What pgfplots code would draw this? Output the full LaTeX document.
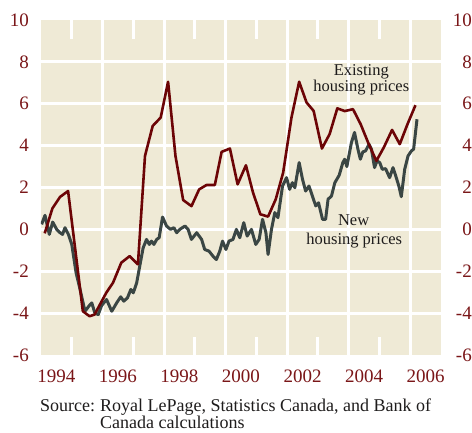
\documentclass[border=0pt]{standalone}
\usepackage{pgfplots}
\pgfplotsset{compat=1.18}
\usepackage{fontspec}
\setmainfont{Liberation Serif}
\definecolor{bgc}{RGB}{239,234,214}
\definecolor{redl}{RGB}{108,4,6}
\definecolor{grayl}{RGB}{58,70,68}
\definecolor{tickc}{RGB}{122,22,24}
\definecolor{txt}{RGB}{30,28,28}

\pgfplotstableread{
x y
1994.12 -0.19
1994.37 1.00
1994.62 1.55
1994.88 1.83
1995.36 -3.91
1995.58 -4.15
1995.74 -4.07
1996.12 -3.03
1996.34 -2.55
1996.61 -1.59
1996.88 -1.28
1997.15 -1.67
1997.38 3.51
1997.63 4.94
1997.89 5.34
1998.13 7.05
1998.37 3.51
1998.62 1.40
1998.89 1.11
1999.14 1.91
1999.38 2.12
1999.65 2.12
1999.87 3.70
2000.14 3.86
2000.39 2.15
2000.66 3.06
2000.89 1.76
2001.13 0.72
2001.38 0.61
2001.63 1.44
2001.87 2.71
2002.14 5.34
2002.39 7.05
2002.63 6.06
2002.86 5.66
2003.13 3.86
2003.38 4.55
2003.63 5.78
2003.87 5.65
2004.14 5.74
2004.39 5.02
2004.63 4.15
2004.90 3.27
2005.14 3.91
2005.41 4.75
2005.66 4.07
2005.91 5.02
2006.17 5.93
}\existing

\pgfplotstableread{
x y
1994.02 0.24
1994.13 0.67
1994.27 -0.24
1994.38 0.35
1994.51 0.00
1994.62 -0.16
1994.70 -0.24
1994.78 0.08
1994.89 -0.24
1995.00 -0.72
1995.14 -2.07
1995.27 -2.87
1995.43 -3.91
1995.57 -3.64
1995.65 -3.51
1995.75 -3.99
1995.86 -4.07
1995.97 -3.64
1996.13 -3.35
1996.30 -3.91
1996.46 -3.51
1996.59 -3.22
1996.69 -3.43
1996.81 -3.27
1996.92 -2.87
1997.00 -3.03
1997.11 -2.55
1997.19 -1.91
1997.32 -0.88
1997.43 -0.48
1997.52 -0.72
1997.59 -0.56
1997.67 -0.72
1997.76 -0.48
1997.84 -0.40
1997.95 0.59
1998.08 0.16
1998.21 0.00
1998.32 0.08
1998.41 -0.16
1998.51 0.00
1998.68 0.16
1998.78 0.00
1998.89 -0.48
1999.06 -0.16
1999.22 -0.48
1999.32 -0.96
1999.46 -1.04
1999.59 -1.28
1999.70 -1.44
1999.81 -1.04
1999.90 -0.56
2000.01 -0.96
2000.11 -0.56
2000.24 -0.48
2000.35 0.00
2000.46 -0.40
2000.59 0.32
2000.70 -0.32
2000.84 0.00
2000.98 -0.72
2001.09 -0.48
2001.20 0.48
2001.31 -0.16
2001.38 -1.20
2001.49 0.00
2001.60 0.80
2001.70 0.56
2001.85 2.07
2001.98 2.47
2002.08 1.91
2002.17 2.23
2002.25 1.99
2002.39 3.19
2002.50 2.39
2002.60 1.83
2002.71 2.07
2002.82 1.59
2002.93 1.12
2003.02 1.27
2003.15 0.48
2003.25 0.48
2003.33 1.44
2003.44 1.59
2003.55 2.23
2003.69 2.58
2003.81 3.19
2003.87 3.35
2003.94 3.00
2004.09 4.15
2004.19 4.63
2004.30 3.83
2004.38 3.35
2004.46 3.70
2004.55 3.75
2004.66 4.07
2004.74 3.83
2004.84 2.95
2004.92 3.27
2005.01 3.19
2005.09 2.87
2005.20 2.90
2005.33 2.47
2005.44 2.95
2005.53 2.55
2005.63 2.07
2005.71 1.56
2005.82 2.87
2005.93 3.51
2006.04 3.75
2006.11 3.83
2006.22 5.26
}\newhouse

\begin{document}
\begin{tikzpicture}
\begin{axis}[name=ax, at={(0,0)}, anchor=south west,
  width=400pt, height=335pt, scale only axis,
  xmin=1994, xmax=2007, ymin=-6, ymax=10,
  axis background/.style={fill=bgc},
  axis line style={draw=none},
  major tick length=0pt,
  xtick={1994.5,1996.5,1998.5,2000.5,2002.5,2004.5,2006.5},
  xticklabels={1994,1996,1998,2000,2002,2004,2006},
  ytick={-6,-4,-2,0,2,4,6,8,10},
  yticklabels={-6,-4,-2,0,2,4,6,8,10},
  ticklabel style={font=\fontsize{19}{19}\selectfont, text=tickc, inner sep=0pt},
  yticklabel style={anchor=east, xshift=-12pt},
  xticklabel style={anchor=north, yshift=-15pt},
]
\pgfplotsinvokeforeach{-4,-2,0,2,4,6,8}{
  \draw[white, line width=3pt] (axis cs:1994,#1) -- (axis cs:2007,#1);
}
\pgfplotsinvokeforeach{1996,1998,2000,2002,2004,2006}{
  \draw[white, line width=3pt] (axis cs:#1,-6) -- (axis cs:#1,10);
}
\pgfplotsinvokeforeach{1995,1997,1999,2001,2003,2005}{
  \draw[white, line width=3pt] (axis cs:#1,10) -- (axis cs:#1,9.1);
  \draw[white, line width=3pt] (axis cs:#1,-6) -- (axis cs:#1,-5.15);
}
\addplot[grayl, line width=3pt, line join=round, no markers] table[x=x,y=y] {\newhouse};
\addplot[redl, line width=2.6pt, line join=round, no markers] table[x=x,y=y] {\existing};
\node[anchor=base, inner sep=0pt, text=txt, font=\fontsize{16.5}{17}\selectfont] at (axis cs:2004.41,7.37) {Existing};
\node[anchor=base, inner sep=0pt, text=txt, font=\fontsize{16.5}{17}\selectfont] at (axis cs:2004.41,6.57) {housing prices};
\node[anchor=base, inner sep=0pt, text=txt, font=\fontsize{16.5}{17}\selectfont] at (axis cs:2004.16,0.19) {New};
\node[anchor=base, inner sep=0pt, text=txt, font=\fontsize{16.5}{17}\selectfont] at (axis cs:2004.18,-0.72) {housing prices};
\end{axis}
\begin{axis}[at={(0,0)}, anchor=south west,
  width=400pt, height=335pt, scale only axis,
  xmin=1994, xmax=2007, ymin=-6, ymax=10,
  axis line style={draw=none},
  major tick length=0pt,
  xtick=\empty,
  ytick={-6,-4,-2,0,2,4,6,8,10},
  yticklabels={-6,-4,-2,0,2,4,6,8,10},
  yticklabel pos=right,
  ticklabel style={font=\fontsize{19}{19}\selectfont, text=tickc, inner sep=0pt},
  yticklabel style={anchor=east, xshift=31pt},
]
\end{axis}
\node[anchor=base west, inner sep=0pt, text=txt, font=\fontsize{18}{19}\selectfont] at ([shift={(-1pt,-57pt)}]ax.south west) {Source:};
\node[anchor=base west, inner sep=0pt, text=txt, font=\fontsize{18}{19}\selectfont] at ([shift={(59pt,-57pt)}]ax.south west) {Royal LePage, Statistics Canada, and Bank of};
\node[anchor=base west, inner sep=0pt, text=txt, font=\fontsize{18}{19}\selectfont] at ([shift={(59pt,-74pt)}]ax.south west) {Canada calculations};
\pgfresetboundingbox
\path[use as bounding box] ([shift={(-41pt,-78pt)}]ax.south west) rectangle ([shift={(31pt,20pt)}]ax.north east);
\end{tikzpicture}
\end{document}
